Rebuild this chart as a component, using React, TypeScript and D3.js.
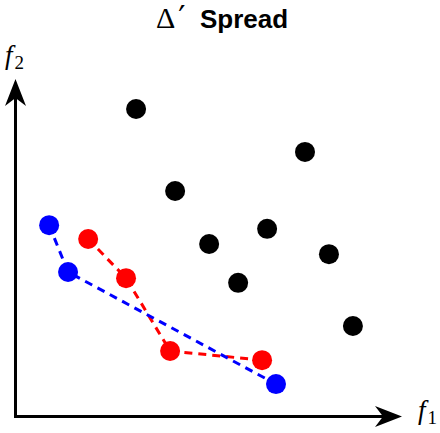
import * as d3 from 'd3';
import { useEffect, useRef } from 'react';

// dominated solutions (black)
const blackX = [3.12, 7.49, 4.13, 5.01, 6.51, 8.11, 5.76, 8.73];
const blackY = [9.11, 7.84, 6.68, 5.11, 5.56, 4.81, 3.96, 2.68];
// front A (red)
const redX = [1.88, 2.86, 4.0, 6.38];
const redY = [5.26, 4.1, 1.94, 1.67];
// front B (blue)
const blueX = [0.87, 1.36, 6.74];
const blueY = [5.67, 4.28, 0.96];

const W = 440, H = 433;

function App() {
  const ref = useRef<SVGSVGElement>(null);

  useEffect(() => {
    const svg = d3.select(ref.current);
    svg.selectAll('*').remove();

    const x = d3.scaleLinear().domain([0, 10]).range([15.5, 402]);
    const y = d3.scaleLinear().domain([0, 10]).range([416.5, 79]);

    // title
    const title = svg.append('text')
      .attr('x', 156).attr('y', 28)
      .style('font-size', '26px');
    title.append('tspan').text('Δ')
      .style('font-family', '"Liberation Serif", serif')
      .style('font-size', '30px');
    title.append('tspan').text('′')
      .attr('dx', 3)
      .style('font-family', '"DejaVu Sans", sans-serif')
      .style('font-size', '32px');
    title.append('tspan').text('Spread')
      .attr('x', 200)
      .style('font-family', '"Liberation Sans", Arial, sans-serif')
      .style('font-weight', 'bold');

    // axes
    const x0 = x(0), y0 = y(0), xEnd = x(10), yEnd = y(10);
    svg.append('path')
      .attr('d', `M${x0},${yEnd + 20} L${x0},${y0} L${xEnd - 20},${y0}`)
      .attr('fill', 'none').attr('stroke', 'black').attr('stroke-width', 3)
      .attr('stroke-linejoin', 'miter').attr('stroke-linecap', 'square');
    // arrow heads (stealth-like)
    svg.append('path')
      .attr('d', `M${x0},${yEnd} L${x0 + 10.5},${yEnd + 27} L${x0},${yEnd + 19} L${x0 - 10.5},${yEnd + 27} Z`)
      .attr('fill', 'black');
    svg.append('path')
      .attr('d', `M${xEnd},${y0} L${xEnd - 27},${y0 + 10.5} L${xEnd - 19},${y0} L${xEnd - 27},${y0 - 10.5} Z`)
      .attr('fill', 'black');

    // axis labels
    const lab = (tx: number, ty: number, sub: string) => {
      const t = svg.append('text').attr('x', tx).attr('y', ty)
        .style('font-family', '"Liberation Serif", "DejaVu Serif", serif')
        .style('font-size', '27px');
      t.append('tspan').text('f').style('font-style', 'italic');
      t.append('tspan').text(sub).attr('dx', 2).attr('dy', 5).style('font-size', '19px');
    };
    lab(5, 64, '2');
    lab(418, 419, '1');

    const line = d3.line<[number, number]>().x(d => x(d[0])).y(d => y(d[1]));

    const series = [
      { xs: redX, ys: redY, color: '#ff0000' },
      { xs: blueX, ys: blueY, color: '#0000ff' },
    ];

    // black points
    svg.append('g').selectAll('circle')
      .data(d3.zip(blackX, blackY)).enter().append('circle')
      .attr('cx', d => x(d[0])).attr('cy', d => y(d[1]))
      .attr('r', 10).attr('fill', 'black');

    series.forEach(s => {
      const pts = d3.zip(s.xs, s.ys) as [number, number][];
      svg.append('path')
        .attr('d', line(pts))
        .attr('fill', 'none').attr('stroke', s.color)
        .attr('stroke-width', 3).attr('stroke-dasharray', '8,6');
      svg.append('g').selectAll('circle')
        .data(pts).enter().append('circle')
        .attr('cx', d => x(d[0])).attr('cy', d => y(d[1]))
        .attr('r', 10).attr('fill', s.color);
    });
  }, []);

  return (
    <div style={{ position: 'absolute', left: 0, top: 0 }}>
      <svg ref={ref} width={W} height={H} style={{ display: 'block', background: 'white' }} />
    </div>
  );
}

export default App;
